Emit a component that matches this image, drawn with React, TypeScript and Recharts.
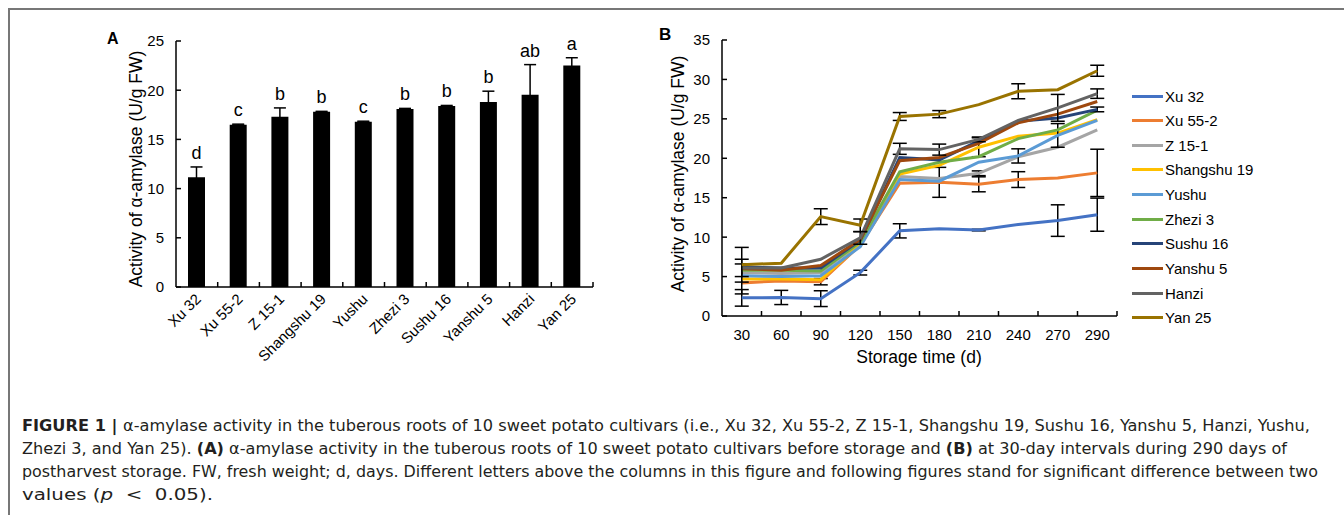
import React from 'react';
import { BarChart, Bar, XAxis, YAxis, ErrorBar, LabelList, LineChart, Line } from 'recharts';

// ---------- Panel A data ----------
const cultivars = ['Xu 32', 'Xu 55-2', 'Z 15-1', 'Shangshu 19', 'Yushu', 'Zhezi 3', 'Sushu 16', 'Yanshu 5', 'Hanzi', 'Yan 25'];
const activityBefore = [11.15, 16.5, 17.3, 17.8, 16.8, 18.1, 18.4, 18.8, 19.55, 22.5];
const activityBeforeErr = [1.05, 0.05, 0.9, 0.05, 0.05, 0.05, 0.05, 1.1, 3.05, 0.8];
const significance = ['d', 'c', 'b', 'b', 'c', 'b', 'b', 'b', 'ab', 'a'];
const barTicks = [0, 5, 10, 15, 20, 25];

// ---------- Panel B data ----------
const storageDays = ['30', '60', '90', '120', '150', '180', '210', '240', '270', '290'];
const lineTicks = [0, 5, 10, 15, 20, 25, 30, 35];

const xu32 = [2.3, 2.35, 2.2, 5.5, 10.8, 11.05, 10.9, 11.6, 12.1, 12.85];
const xu552 = [4.2, 4.45, 4.35, 9.0, 16.85, 16.95, 16.7, 17.3, 17.5, 18.15];
const z151 = [5.5, 5.4, 5.5, 9.3, 17.7, 17.45, 18.1, 20.2, 21.4, 23.6];
const shangshu19 = [4.7, 4.7, 4.6, 9.1, 18.0, 19.1, 21.4, 22.8, 23.2, 24.9];
const yushu = [5.1, 5.0, 5.1, 8.8, 17.3, 17.1, 19.5, 20.3, 22.9, 24.8];
const zhezi3 = [5.8, 5.8, 5.7, 9.4, 18.3, 19.5, 20.2, 22.5, 23.6, 26.1];
const sushu16 = [6.2, 6.1, 6.1, 9.6, 20.1, 19.8, 22.2, 24.7, 25.1, 26.2];
const yanshu5 = [6.0, 5.8, 6.4, 9.7, 19.7, 20.1, 21.9, 24.5, 25.6, 27.2];
const hanzi = [6.1, 6.1, 7.2, 9.9, 21.2, 21.1, 22.4, 24.8, 26.4, 28.2];
const yan25 = [6.5, 6.7, 12.6, 11.5, 25.3, 25.6, 26.8, 28.5, 28.7, 31.1];

const xu32Err = [1.05, 0.9, 1.0, 0.3, 0.9, null, 0.1, null, 2.0, 2.1];
const xu552Err = [null, null, 0.4, null, null, 1.9, 0.95, 1.0, null, 3.0];
const z151Err = [null, null, null, null, null, null, 0.3, null, null, null];
const shangshu19Err = [1.9, null, null, null, null, null, 1.2, null, null, null];
const yushuErr = [null, null, null, null, null, null, null, 0.9, 1.5, null];
const zhezi3Err = [null, null, null, null, null, null, null, null, null, null];
const sushu16Err = [null, null, null, null, null, null, null, null, null, 0.3];
const yanshu5Err = [null, null, null, null, null, null, null, null, null, null];
const hanziErr = [1.1, null, null, 0.8, 0.7, 0.7, 0.3, null, 1.7, 0.6];
const yan25Err = [2.2, null, 1.0, 0.8, 0.5, 0.45, null, 0.95, null, 0.7];

const seriesValues = [xu32, xu552, z151, shangshu19, yushu, zhezi3, sushu16, yanshu5, hanzi, yan25];
const seriesErrors = [xu32Err, xu552Err, z151Err, shangshu19Err, yushuErr, zhezi3Err, sushu16Err, yanshu5Err, hanziErr, yan25Err];
const seriesColors = ['#4472C4', '#ED7D31', '#A5A5A5', '#FFC000', '#5B9BD5', '#70AD47', '#264478', '#9E480E', '#636363', '#997300'];

const barData = cultivars.map((name, i) => ({
  name,
  value: activityBefore[i],
  err: activityBeforeErr[i],
  letter: significance[i],
}));

const lineData = storageDays.map((day, i) => {
  const row: any = { day };
  seriesValues.forEach((vals, s) => {
    row['v' + s] = vals[i];
    row['e' + s] = seriesErrors[s][i];
  });
  return row;
});

const FONT = '"Liberation Sans", Arial, Helvetica, sans-serif';
const AXIS = { stroke: '#000', strokeWidth: 1.5 };

const halfBand = (props: any) => {
  const { payload, width, visibleTicksCount } = props;
  if (payload && payload.offset > 0) return payload.offset;
  if (width && visibleTicksCount) return width / visibleTicksCount / 2;
  return 20;
};

const ValueTick = (props: any) => {
  const { x, y, payload } = props;
  return (
    <g>
      <line x1={x} x2={x + 5} y1={y} y2={y} stroke="#000" strokeWidth={1.5} />
      <text x={x - 12} y={y} dy="0.36em" textAnchor="end" fontSize={15} fill="#000" fontFamily={FONT}>
        {payload.value}
      </text>
    </g>
  );
};

const CultivarTick = (props: any) => {
  const { x, y, payload } = props;
  const half = halfBand(props);
  return (
    <g>
      <line x1={x + half} x2={x + half} y1={y} y2={y - 5} stroke="#000" strokeWidth={1.5} />
      <text
        transform={`translate(${x + 5},${y + 13}) rotate(-45)`}
        textAnchor="end"
        fontSize={15}
        fill="#000"
        fontFamily={FONT}
      >
        {payload.value}
      </text>
    </g>
  );
};

const DayTick = (props: any) => {
  const { x, y, payload } = props;
  const half = halfBand(props);
  return (
    <g>
      <line x1={x + half} x2={x + half} y1={y} y2={y - 5} stroke="#000" strokeWidth={1.5} />
      <text x={x} y={y + 24} textAnchor="middle" fontSize={15} fill="#000" fontFamily={FONT}>
        {payload.value}
      </text>
    </g>
  );
};

const captionLines = [
  {
    y: 431,
    len: 1288,
    adj: 'spacingAndGlyphs',
    parts: [
      { t: 'FIGURE 1 | ', b: true },
      { t: 'α-amylase activity in the tuberous roots of 10 sweet potato cultivars (i.e., Xu 32, Xu 55-2, Z 15-1, Shangshu 19, Sushu 16, Yanshu 5, Hanzi, Yushu,' },
    ],
  },
  {
    y: 454,
    len: 1265,
    adj: 'spacingAndGlyphs',
    parts: [
      { t: 'Zhezi 3, and Yan 25). ' },
      { t: '(A)', b: true },
      { t: ' α-amylase activity in the tuberous roots of 10 sweet potato cultivars before storage and ' },
      { t: '(B)', b: true },
      { t: ' at 30-day intervals during 290 days of' },
    ],
  },
  {
    y: 477,
    len: 1296,
    adj: 'spacingAndGlyphs',
    parts: [
      { t: 'postharvest storage. FW, fresh weight; d, days. Different letters above the columns in this figure and following figures stand for significant difference between two' },
    ],
  },
  {
    y: 500,
    len: 191,
    adj: 'spacingAndGlyphs',
    parts: [{ t: 'values (' }, { t: 'p', i: true }, { t: '  <  0.05).' }],
  },
];

export default function App() {
  return (
    <div
      style={{
        position: 'fixed',
        left: 0,
        top: 0,
        width: 1344,
        height: 515,
        overflow: 'hidden',
        background: '#fff',
        fontFamily: FONT,
      }}
    >
      {/* frame */}
      <div
        style={{
          position: 'absolute',
          left: 8,
          top: 8,
          width: 1400,
          height: 600,
          borderTop: '2px solid #777',
          borderLeft: '2px solid #777',
        }}
      />

      {/* Panel A */}
      <div style={{ position: 'absolute', left: 100, top: 0 }}>
        <BarChart
          width={560}
          height={380}
          data={barData}
          margin={{ top: 41, right: 67, bottom: 13, left: 36 }}
          barSize={17}
        >
          <XAxis
            dataKey="name"
            interval={0}
            tickLine={false}
            tickSize={0}
            tickMargin={0}
            height={80}
            axisLine={AXIS}
            tick={CultivarTick}
          />
          <YAxis
            domain={[0, 25]}
            ticks={barTicks}
            width={40}
            tickLine={false}
            tickSize={0}
            tickMargin={0}
            axisLine={AXIS}
            tick={ValueTick}
            allowDataOverflow
          />
          <Bar dataKey="value" stackId="a" fill="#000" isAnimationActive={false}>
            <ErrorBar dataKey="err" width={6} stroke="#000" strokeWidth={1.5} direction="y" />
          </Bar>
          <Bar dataKey="err" stackId="a" fill="transparent" isAnimationActive={false}>
            <LabelList dataKey="letter" position="top" offset={8} fill="#000" fontSize={18} fontFamily={FONT} />
          </Bar>
        </BarChart>
      </div>

      {/* Panel B */}
      <div style={{ position: 'absolute', left: 660, top: 0 }}>
        <LineChart
          width={480}
          height={380}
          data={lineData}
          margin={{ top: 40, right: 23, bottom: 14, left: 22 }}
        >
          <XAxis
            dataKey="day"
            scale="band"
            interval={0}
            tickLine={false}
            tickSize={0}
            tickMargin={0}
            height={50}
            axisLine={AXIS}
            tick={DayTick}
          />
          <YAxis
            domain={[0, 35]}
            ticks={lineTicks}
            width={40}
            tickLine={false}
            tickSize={0}
            tickMargin={0}
            axisLine={AXIS}
            tick={ValueTick}
          />
          {cultivars.map((c, s) => (
            <Line
              key={c}
              dataKey={'v' + s}
              name={c}
              stroke={seriesColors[s]}
              strokeWidth={3}
              dot={false}
              activeDot={false}
              isAnimationActive={false}
            >
              <ErrorBar dataKey={'e' + s} width={7} stroke="#000" strokeWidth={1.5} direction="y" />
            </Line>
          ))}
        </LineChart>
      </div>

      {/* Legend */}
      {cultivars.map((c, s) => (
        <div
          key={c}
          style={{
            position: 'absolute',
            left: 1132,
            top: 96 + s * 24.65 - 10,
            height: 20,
            display: 'flex',
            alignItems: 'center',
            fontSize: 15,
            color: '#000',
            whiteSpace: 'nowrap',
          }}
        >
          <span style={{ display: 'inline-block', width: 31, height: 3, background: seriesColors[s], marginRight: 2 }} />
          <span>{c}</span>
        </div>
      ))}

      {/* titles and caption */}
      <svg
        width={1344}
        height={515}
        style={{ position: 'absolute', left: 0, top: 0, pointerEvents: 'none' }}
        fontFamily={FONT}
      >
        <text x={107} y={44} fontSize={16} fontWeight="bold" fill="#000">A</text>
        <text x={659} y={40} fontSize={17} fontWeight="bold" fill="#000">B</text>
        <text
          transform="translate(136,169) rotate(-90)"
          textAnchor="middle"
          dominantBaseline="central"
          fontSize={17.5}
          fill="#000"
        >
          Activity of α-amylase (U/g FW)
        </text>
        <text
          transform="translate(678,174) rotate(-90)"
          textAnchor="middle"
          dominantBaseline="central"
          fontSize={17.5}
          fill="#000"
        >
          Activity of α-amylase (U/g FW)
        </text>
        <text x={919} y={363} textAnchor="middle" fontSize={17.5} fill="#000">
          Storage time (d)
        </text>

        {captionLines.map((line, li) => (
          <text
            key={li}
            x={22}
            y={line.y}
            fontSize={16.5}
            fill="#231f20"
            textLength={line.len}
            lengthAdjust={line.adj}
            xmlSpace="preserve"
            fontFamily='"Liberation Sans Narrow", "DejaVu Sans Condensed", "Liberation Sans", Arial, sans-serif'
          >
            {line.parts.map((p: any, pi) => (
              <tspan key={pi} fontWeight={p.b ? 'bold' : 'normal'} fontStyle={p.i ? 'italic' : 'normal'}>
                {p.t}
              </tspan>
            ))}
          </text>
        ))}
      </svg>
    </div>
  );
}
